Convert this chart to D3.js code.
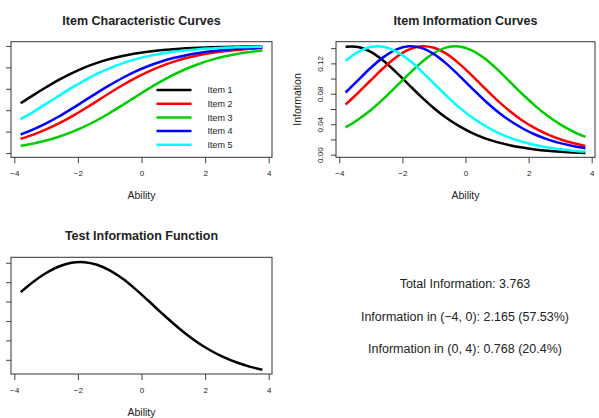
<!DOCTYPE html>
<html>
<head>
<meta charset="utf-8">
<script src="https://cdn.jsdelivr.net/npm/d3@7"></script>
<style>
  body { margin: 0; background: #fff; }
  text { font-family: "Liberation Sans", Arial, Helvetica, sans-serif; fill: #222; }
</style>
</head>
<body>
<div id="chart"></div>
<script>
// ability grid and item values
var ability = [-3.8, -3.4, -3.0, -2.6, -2.2, -1.8, -1.4, -1.0, -0.6, -0.2,
               0.2, 0.6, 1.0, 1.4, 1.8, 2.2, 2.6, 3.0, 3.4, 3.8];
var itemNames = ["Item 1", "Item 2", "Item 3", "Item 4", "Item 5"];
var itemColors = ["#000000", "#ff0000", "#00cd00", "#0000ff", "#00ffff"];

// probability of a correct response (ICC)
var icc1 = [0.465, 0.541, 0.614, 0.683, 0.744, 0.798, 0.842, 0.878, 0.907, 0.930, 0.947, 0.960, 0.970, 0.978, 0.984, 0.988, 0.991, 0.993, 0.995, 0.996];
var icc2 = [0.133, 0.172, 0.220, 0.276, 0.340, 0.411, 0.485, 0.561, 0.633, 0.700, 0.759, 0.810, 0.852, 0.887, 0.914, 0.935, 0.951, 0.963, 0.973, 0.980];
var icc3 = [0.067, 0.089, 0.117, 0.152, 0.195, 0.246, 0.306, 0.374, 0.447, 0.522, 0.597, 0.667, 0.730, 0.785, 0.832, 0.870, 0.901, 0.925, 0.943, 0.957];
var icc4 = [0.173, 0.221, 0.277, 0.341, 0.412, 0.487, 0.562, 0.634, 0.701, 0.761, 0.811, 0.853, 0.887, 0.914, 0.935, 0.951, 0.963, 0.973, 0.980, 0.985];
var icc5 = [0.316, 0.385, 0.459, 0.534, 0.608, 0.677, 0.739, 0.793, 0.838, 0.875, 0.905, 0.928, 0.946, 0.959, 0.970, 0.977, 0.983, 0.987, 0.991, 0.993];

// item information
var iic1 = [0.1419, 0.1416, 0.1351, 0.1235, 0.1085, 0.0921, 0.0759, 0.0610, 0.0481, 0.0374, 0.0287, 0.0218, 0.0165, 0.0124, 0.0093, 0.0069, 0.0051, 0.0038, 0.0028, 0.0021];
var iic2 = [0.0659, 0.0814, 0.0978, 0.1139, 0.1280, 0.1380, 0.1424, 0.1405, 0.1325, 0.1197, 0.1042, 0.0877, 0.0717, 0.0574, 0.0450, 0.0349, 0.0267, 0.0202, 0.0152, 0.0114];
var iic3 = [0.0358, 0.0462, 0.0587, 0.0733, 0.0893, 0.1058, 0.1212, 0.1335, 0.1410, 0.1423, 0.1372, 0.1267, 0.1124, 0.0961, 0.0797, 0.0645, 0.0510, 0.0398, 0.0306, 0.0233];
var iic4 = [0.0817, 0.0981, 0.1142, 0.1282, 0.1382, 0.1424, 0.1404, 0.1322, 0.1194, 0.1039, 0.0874, 0.0715, 0.0571, 0.0448, 0.0347, 0.0265, 0.0201, 0.0151, 0.0114, 0.0085];
var iic5 = [0.1233, 0.1350, 0.1416, 0.1419, 0.1359, 0.1247, 0.1099, 0.0935, 0.0773, 0.0622, 0.0492, 0.0383, 0.0294, 0.0224, 0.0169, 0.0127, 0.0095, 0.0071, 0.0052, 0.0040];

// test information
var tif = [0.4486, 0.5023, 0.5474, 0.5808, 0.5999, 0.6030, 0.5898, 0.5607, 0.5183, 0.4655, 0.4067, 0.3460, 0.2871, 0.2331, 0.1856, 0.1455, 0.1124, 0.0860, 0.0652, 0.0493];

var xTicks = [-4, -2, 0, 2, 4];
var iccTicks = [0, 0.2, 0.4, 0.6, 0.8, 1.0];
var iicTicks = [0, 0.02, 0.04, 0.06, 0.08, 0.10, 0.12, 0.14];
var iicLabelled = [0, 0.04, 0.08, 0.12];
var tifTicks = [0.1, 0.2, 0.3, 0.4, 0.5, 0.6];
var infoLines = ["Total Information: 3.763",
                 "Information in (\u22124, 0): 2.165 (57.53%)",
                 "Information in (0, 4): 0.768 (20.4%)"];

var width = 599, height = 418;
var svg = d3.select("#chart").append("svg")
    .attr("width", width)
    .attr("height", height);

var fmtMinus = function(d) { return d < 0 ? "\u2212" + Math.abs(d) : "" + d; };

function panel(box, yDomain, yTickVals, yLabelVals, title, yTitle) {
  var x = d3.scaleLinear().domain([-4.104, 4.104]).range([box.left, box.right]);
  var y = d3.scaleLinear().domain(yDomain).range([box.bottom, box.top]);

  svg.append("text")
      .attr("x", (box.left + box.right) / 2)
      .attr("y", box.top - 17)
      .attr("text-anchor", "middle")
      .attr("font-weight", 700)
      .style("font-size", "12.5px")
      .text(title);

  var xa = svg.append("g")
      .attr("transform", "translate(0," + box.bottom + ")")
      .call(d3.axisBottom(x).tickValues(xTicks).tickSize(6).tickPadding(7).tickFormat(fmtMinus));
  xa.select(".domain").remove();
  xa.selectAll("line").attr("stroke", "#444");
  xa.selectAll("text").style("font-size", "8px").style("font-family", null);

  svg.append("text")
      .attr("x", (box.left + box.right) / 2)
      .attr("y", box.bottom + 42)
      .attr("text-anchor", "middle")
      .style("font-size", "10.5px")
      .text("Ability");

  var ya = svg.append("g")
      .attr("transform", "translate(" + box.left + ",0)")
      .call(d3.axisLeft(y).tickValues(yTickVals).tickSize(5)
        .tickFormat(function(d) {
          return yLabelVals.some(function(v) { return Math.abs(v - d) < 1e-9; }) ? d.toFixed(2) : "";
        }));
  ya.select(".domain").remove();
  ya.selectAll("line").attr("stroke", "#444");
  ya.selectAll(".tick text")
      .style("font-size", "8px")
      .style("font-family", null)
      .attr("text-anchor", "middle")
      .attr("transform", "rotate(-90)")
      .attr("x", 0)
      .attr("y", -13)
      .attr("dy", null);

  if (yTitle) {
    svg.append("text")
        .attr("transform", "translate(" + (box.left - 35) + "," + ((box.top + box.bottom) / 2) + ") rotate(-90)")
        .attr("text-anchor", "middle")
        .style("font-size", "10.5px")
        .text(yTitle);
  }

  svg.append("rect")
      .attr("x", box.left)
      .attr("y", box.top)
      .attr("width", box.right - box.left)
      .attr("height", box.bottom - box.top)
      .attr("fill", "none")
      .attr("stroke", "#333")
      .attr("stroke-width", 1);

  return {x: x, y: y};
}

function drawCurve(sc, values, color) {
  var pts = ability.map(function(a, i) { return [a, values[i]]; });
  svg.append("path")
      .datum(pts)
      .attr("d", d3.line()
        .x(function(d) { return sc.x(d[0]); })
        .y(function(d) { return sc.y(d[1]); })
        .curve(d3.curveCatmullRom))
      .attr("fill", "none")
      .attr("stroke", color)
      .attr("stroke-width", 2.5);
}

// panel 1: item characteristic curves
var p1 = panel({left: 11, right: 272, top: 41.7, bottom: 157.3}, [-0.04, 1.04], iccTicks, [], "Item Characteristic Curves", null);
[icc1, icc2, icc3, icc4, icc5].forEach(function(s, i) { drawCurve(p1, s, itemColors[i]); });

var legend = svg.append("g");
itemNames.forEach(function(name, i) {
  var ly = 90 + i * 13.7;
  legend.append("line")
      .attr("x1", 156.5).attr("x2", 191.5)
      .attr("y1", ly).attr("y2", ly)
      .attr("stroke", itemColors[i])
      .attr("stroke-width", 2.5);
  legend.append("text")
      .attr("x", 207.5)
      .attr("y", ly + 3.3)
      .style("font-size", "9px")
      .text(name);
});

// panel 2: item information curves
var p2 = panel({left: 336, right: 595, top: 41.7, bottom: 157.3}, [-0.0035, 0.1485], iicTicks, iicLabelled, "Item Information Curves", "Information");
[iic1, iic2, iic3, iic4, iic5].forEach(function(s, i) { drawCurve(p2, s, itemColors[i]); });

// panel 3: test information function
var p3 = panel({left: 11, right: 272, top: 257.3, bottom: 374}, [0.027, 0.628], tifTicks, [], "Test Information Function", null);
drawCurve(p3, tif, "#000000");

// panel 4: information summary
infoLines.forEach(function(line, i) {
  svg.append("text")
      .attr("x", 465)
      .attr("y", 288 + i * 32.7)
      .attr("text-anchor", "middle")
      .style("font-size", "12.5px")
      .text(line);
});
</script>
</body>
</html>
